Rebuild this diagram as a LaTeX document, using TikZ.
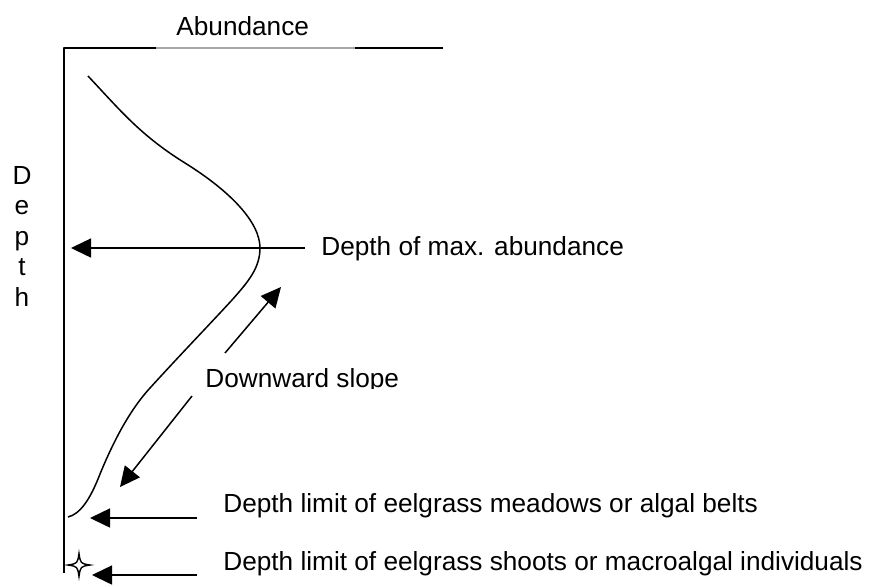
\documentclass[tikz,border=0pt]{standalone}
\usepackage{fontspec}
\setmainfont{Liberation Sans}
\usetikzlibrary{arrows.meta}
\begin{document}
\begin{tikzpicture}[x=0.5pt,y=-0.5pt,
  lbl/.style={inner sep=0pt, anchor=base west, font=\fontsize{13.1}{15.2}\selectfont},
  ln/.style={line width=0.75pt, line join=round},
  arr/.style={ln, -{Triangle[length=10pt,width=9.5pt]}}]
\useasboundingbox (0,0) rectangle (880,586);
% axes
\coordinate (o) at (64,48);
\coordinate (ga) at (156,48);
\coordinate (gb) at (355,48);
\coordinate (te) at (443,48);
\coordinate (ab) at (64,573);
\draw[ln] (ab) -- (o) -- (ga);
\draw[line width=0.55pt, gray!70] (ga) -- (gb);
\draw[ln] (gb) -- (te);
% labels
\node[lbl] (abund) at (176,35) {Abundance};
\node[lbl, anchor=north, align=center] (depth) at (22,166) {D\\e\\p\\t\\h};
\node[lbl] (maxab) at (321,255) {Depth of max. abundance};
\node[lbl] (meadow) at (223,512) {Depth limit of eelgrass meadows or algal belts};
\node[lbl] (shoot) at (223,570) {Depth limit of eelgrass shoots or macroalgal individuals};
\begin{scope}
  \clip (195,355) rectangle (420,388);
  \node[lbl] (slope) at (205,387) {Downward slope};
\end{scope}
% abundance curve
\draw[ln] (88,76) .. controls (120,110) and (140,135) .. (185,163)
  .. controls (230,191) and (260,222) .. (260,248)
  .. controls (260,268) and (248,282) .. (232,300)
  .. controls (210,324) and (180,355) .. (150,388)
  .. controls (128,412) and (112,445) .. (100,474)
  .. controls (90,500) and (80,514) .. (68,517);
% arrows
\coordinate (m1) at (305,248);
\coordinate (m2) at (71,248);
\draw[arr] (m1) -- (m2);
\coordinate (u1) at (225,353);
\coordinate (u2) at (281,287);
\draw[arr] (u1) -- (u2);
\coordinate (d1) at (192,396);
\coordinate (d2) at (120,487);
\draw[arr] (d1) -- (d2);
\coordinate (e1) at (197,518);
\coordinate (e2) at (90,518);
\draw[arr] (e1) -- (e2);
\coordinate (s1) at (197,575);
\coordinate (s2) at (92,575);
\draw[arr] (s1) -- (s2);
% star
\draw[line width=0.7pt, line join=miter]
  (79,553.5) .. controls (80.5,563.5) .. (90,565)
  .. controls (80.5,566.5) .. (79,576.5)
  .. controls (77.5,566.5) .. (68,565)
  .. controls (77.5,563.5) .. cycle;
\end{tikzpicture}
\end{document}
